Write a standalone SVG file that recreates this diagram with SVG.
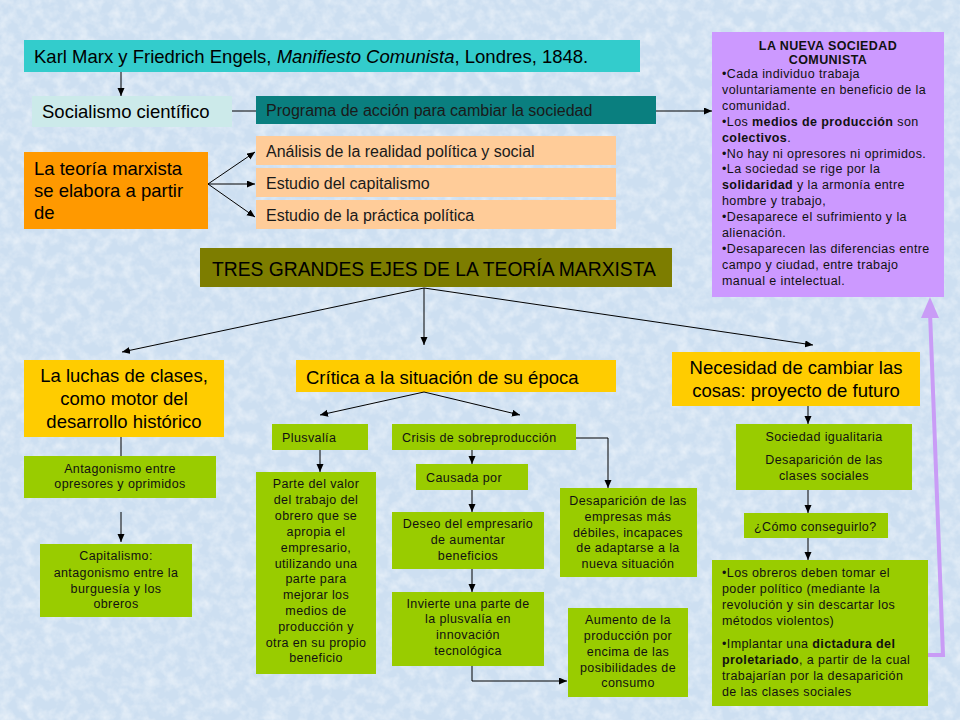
<svg xmlns="http://www.w3.org/2000/svg" width="960" height="720" viewBox="0 0 960 720">
<defs>
<marker id="ah" markerUnits="userSpaceOnUse" markerWidth="9" markerHeight="8" refX="8" refY="3.5" orient="auto">
<path d="M0,0 L8,3.5 L0,7 z" fill="#000"/>
</marker>
<filter id="tex" x="0" y="0" width="100%" height="100%">
<feTurbulence type="fractalNoise" baseFrequency="0.09" numOctaves="3" seed="7" result="n"/>
<feColorMatrix in="n" type="matrix" values="0 0 0 0 1  0 0 0 0 1  0 0 0 0 1  1.6 0 0 0 -0.6"/>
</filter>
<style>
.big{font-family:"Liberation Sans",Arial,sans-serif;font-size:18.5px;fill:#000}
.mid{font-family:"Liberation Sans",Arial,sans-serif;font-size:16px;fill:#1a1a1a}
.sm{font-family:"Liberation Sans",Arial,sans-serif;font-size:12.5px;letter-spacing:0.4px;fill:#111}
.c{text-anchor:middle}
.b{font-weight:bold}
.ln{stroke:#000;stroke-width:1;fill:none}
.ar{marker-end:url(#ah)}
.g{fill:#99cc00}
.y{fill:#ffcc00}
.p{fill:#ffcc99}
</style>
</defs>
<rect width="960" height="720" fill="#cddff1"/>
<rect width="960" height="720" fill="#fff" filter="url(#tex)" opacity="0.6"/>

<g id="manifiesto"><rect x="24" y="40" width="616" height="32" fill="#33cccc"/><text class="big" x="34" y="63">Karl Marx y Friedrich Engels, <tspan font-style="italic">Manifiesto Comunista</tspan>, Londres, 1848.</text></g>
<g id="socialismo"><rect x="32" y="96" width="200" height="31" fill="#cceaea"/><text class="big" x="42" y="118">Socialismo científico</text></g>
<g id="programa"><rect x="256" y="96" width="400" height="28" fill="#0a7f7f"/><text class="mid" x="266" y="116" fill="#0a2a2a">Programa de acción para cambiar la sociedad</text></g>
<g id="teoria"><rect x="24" y="152" width="184" height="77" fill="#ff9900"/><text class="big" x="34" y="175">La teoría marxista</text><text class="big" x="34" y="197">se elabora a partir</text><text class="big" x="34" y="219">de</text></g>
<g id="analisis"><rect class="p" x="256" y="136" width="360" height="29"/><text class="mid" x="266" y="157">Análisis de la realidad política y social</text></g>
<g id="capitalismo"><rect class="p" x="256" y="168" width="360" height="29"/><text class="mid" x="266" y="189">Estudio del capitalismo</text></g>
<g id="practica"><rect class="p" x="256" y="200" width="360" height="29"/><text class="mid" x="266" y="221">Estudio de la práctica política</text></g>

<g id="nueva">
<rect x="712" y="32" width="232" height="265" fill="#cc99ff"/>
<text class="sm b c" x="828" y="50">LA NUEVA SOCIEDAD</text>
<text class="sm b c" x="828" y="64">COMUNISTA</text>
<text class="sm" x="722" y="78">•Cada individuo trabaja</text>
<text class="sm" x="722" y="94">voluntariamente en beneficio de la</text>
<text class="sm" x="722" y="110">comunidad.</text>
<text class="sm" x="722" y="126">•Los <tspan class="b">medios de producción</tspan> son</text>
<text class="sm b" x="722" y="142">colectivos<tspan font-weight="normal">.</tspan></text>
<text class="sm" x="722" y="158">•No hay ni opresores ni oprimidos.</text>
<text class="sm" x="722" y="173">•La sociedad se rige por la</text>
<text class="sm" x="722" y="189"><tspan class="b">solidaridad</tspan> y la armonía entre</text>
<text class="sm" x="722" y="205">hombre y trabajo,</text>
<text class="sm" x="722" y="221">•Desaparece el sufrimiento y la</text>
<text class="sm" x="722" y="237">alienación.</text>
<text class="sm" x="722" y="253">•Desaparecen las diferencias entre</text>
<text class="sm" x="722" y="269">campo y ciudad, entre trabajo</text>
<text class="sm" x="722" y="285">manual e intelectual.</text>
</g>

<g id="ejes"><rect x="200" y="248" width="472" height="39" fill="#7d7d00"/><text class="big" x="212" y="276" fill="#111" style="font-size:19.3px">TRES GRANDES EJES DE LA TEORÍA MARXISTA</text></g>

<g id="luchas"><rect class="y" x="24" y="360" width="200" height="77"/><text class="big c" x="124" y="382">La luchas de clases,</text><text class="big c" x="124" y="405">como motor del</text><text class="big c" x="124" y="428">desarrollo histórico</text></g>
<g id="critica"><rect class="y" x="296" y="360" width="320" height="32"/><text class="big" x="306" y="384">Crítica a la situación de su época</text></g>
<g id="necesidad"><rect class="y" x="672" y="352" width="248" height="54"/><text class="big c" x="796" y="374">Necesidad de cambiar las</text><text class="big c" x="796" y="397">cosas: proyecto de futuro</text></g>

<g id="antagonismo"><rect class="g" x="24" y="456" width="192" height="42"/><text class="sm c" x="120" y="473">Antagonismo entre</text><text class="sm c" x="120" y="488">opresores y oprimidos</text></g>
<g id="capitalismo2"><rect class="g" x="40" y="544" width="152" height="73"/><text class="sm c" x="116" y="560">Capitalismo:</text><text class="sm c" x="116" y="577">antagonismo entre la</text><text class="sm c" x="116" y="593">burguesía y los</text><text class="sm c" x="116" y="608">obreros</text></g>

<g id="plusvalia"><rect class="g" x="272" y="424" width="96" height="26"/><text class="sm" x="282" y="442">Plusvalía</text></g>
<g id="parte"><rect class="g" x="256" y="472" width="120" height="202"/>
<text class="sm c" x="316" y="488">Parte del valor</text>
<text class="sm c" x="316" y="504">del trabajo del</text>
<text class="sm c" x="316" y="520">obrero que se</text>
<text class="sm c" x="316" y="536">apropia el</text>
<text class="sm c" x="316" y="552">empresario,</text>
<text class="sm c" x="316" y="568">utilizando una</text>
<text class="sm c" x="316" y="583">parte para</text>
<text class="sm c" x="316" y="599">mejorar los</text>
<text class="sm c" x="316" y="615">medios de</text>
<text class="sm c" x="316" y="631">producción y</text>
<text class="sm c" x="316" y="647">otra en su propio</text>
<text class="sm c" x="316" y="662">beneficio</text>
</g>

<g id="crisis"><rect class="g" x="392" y="424" width="184" height="26"/><text class="sm" x="402" y="442">Crisis de sobreproducción</text></g>
<g id="causada"><rect class="g" x="416" y="464" width="112" height="26"/><text class="sm" x="426" y="482">Causada por</text></g>
<g id="deseo"><rect class="g" x="392" y="512" width="152" height="57"/><text class="sm c" x="468" y="528">Deseo del empresario</text><text class="sm c" x="468" y="544">de aumentar</text><text class="sm c" x="468" y="560">beneficios</text></g>
<g id="invierte"><rect class="g" x="392" y="592" width="152" height="74"/><text class="sm c" x="468" y="608">Invierte una parte de</text><text class="sm c" x="468" y="623">la plusvalía en</text><text class="sm c" x="468" y="639">innovación</text><text class="sm c" x="468" y="655">tecnológica</text></g>
<g id="desaparicion"><rect class="g" x="560" y="488" width="137" height="89"/><text class="sm c" x="628" y="505">Desaparición de las</text><text class="sm c" x="628" y="521">empresas más</text><text class="sm c" x="628" y="537">débiles, incapaces</text><text class="sm c" x="628" y="552">de adaptarse a la</text><text class="sm c" x="628" y="568">nueva situación</text></g>
<g id="aumento"><rect class="g" x="568" y="608" width="120" height="89"/><text class="sm c" x="628" y="624">Aumento de la</text><text class="sm c" x="628" y="640">producción por</text><text class="sm c" x="628" y="656">encima de las</text><text class="sm c" x="628" y="672">posibilidades de</text><text class="sm c" x="628" y="687">consumo</text></g>

<g id="igualitaria"><rect class="g" x="736" y="424" width="176" height="66"/><text class="sm c" x="824" y="441">Sociedad igualitaria</text><text class="sm c" x="824" y="464">Desaparición de las</text><text class="sm c" x="824" y="480">clases sociales</text></g>
<g id="como"><rect class="g" x="744" y="513" width="144" height="25"/><text class="sm" x="754" y="531">¿Cómo conseguirlo?</text></g>
<g id="obreros"><rect class="g" x="712" y="560" width="216" height="146"/>
<text class="sm" x="722" y="577">•Los obreros deben tomar el</text>
<text class="sm" x="722" y="593">poder político (mediante la</text>
<text class="sm" x="722" y="609">revolución y sin descartar los</text>
<text class="sm" x="722" y="625">métodos violentos)</text>
<text class="sm" x="722" y="648">•Implantar una <tspan class="b">dictadura del</tspan></text>
<text class="sm" x="722" y="664"><tspan class="b">proletariado</tspan>, a partir de la cual</text>
<text class="sm" x="722" y="680">trabajarían por la desaparición</text>
<text class="sm" x="722" y="696">de las clases sociales</text>
</g>

<g id="connectors">
<line class="ln ar" x1="121" y1="72" x2="121" y2="96"/>
<line class="ln" x1="232" y1="111" x2="256" y2="111"/>
<line class="ln ar" x1="656" y1="111" x2="712" y2="111"/>
<line class="ln ar" x1="208" y1="184" x2="255" y2="152"/>
<line class="ln ar" x1="208" y1="184" x2="255" y2="184"/>
<line class="ln ar" x1="208" y1="184" x2="255" y2="217"/>
<line class="ln ar" x1="424" y1="288" x2="122" y2="352"/>
<line class="ln ar" x1="424" y1="288" x2="424" y2="345"/>
<line class="ln ar" x1="424" y1="288" x2="813" y2="345"/>
<line class="ln" x1="121" y1="437" x2="121" y2="456"/>
<line class="ln ar" x1="121" y1="512" x2="121" y2="542"/>
<line class="ln ar" x1="424" y1="392" x2="320" y2="415"/>
<line class="ln ar" x1="424" y1="392" x2="520" y2="415"/>
<line class="ln ar" x1="320" y1="450" x2="320" y2="472"/>
<line class="ln ar" x1="472" y1="450" x2="472" y2="464"/>
<line class="ln ar" x1="472" y1="490" x2="472" y2="512"/>
<line class="ln ar" x1="472" y1="569" x2="472" y2="592"/>
<polyline class="ln ar" points="472,666 472,681 567,681"/>
<polyline class="ln ar" points="576,438 608,438 608,488"/>
<line class="ln ar" x1="808" y1="406" x2="808" y2="424"/>
<line class="ln ar" x1="808" y1="490" x2="808" y2="513"/>
<line class="ln ar" x1="808" y1="538" x2="808" y2="560"/>
<polyline points="928,655 943,655 930,312" fill="none" stroke="#c99cf6" stroke-width="4"/>
<polygon points="921,318 939,318 930,297" fill="#c99cf6"/>
</g>
</svg>
